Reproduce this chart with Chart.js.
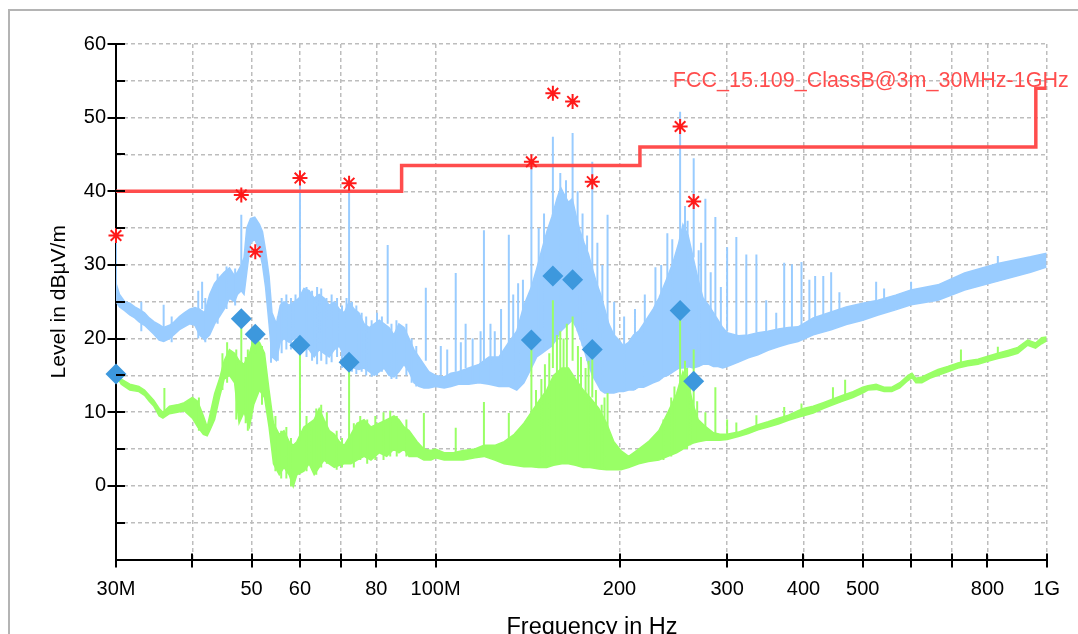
<!DOCTYPE html>
<html>
<head>
<meta charset="utf-8">
<script src="https://cdn.jsdelivr.net/npm/chart.js@4.4.1/dist/chart.umd.min.js"></script>
<style>
  html, body { margin: 0; padding: 0; background: #fff; overflow: hidden; width: 1078px; height: 634px; }
  #frame { position: absolute; left: 8px; top: 9px; width: 2000px; height: 2000px; border: 2px solid #b4b4b4; }
  #wrap { position: absolute; left: 0; top: 0; width: 1078px; height: 660px; }
</style>
</head>
<body>
<div id="frame"></div>
<div id="wrap"><canvas id="c" width="1078" height="660"></canvas></div>
<script>
// ---------- axis ticks / titles ----------
const xTickValues = [30, 40, 50, 60, 70, 80, 100, 200, 300, 400, 500, 600, 700, 800, 1000];
const xTickLabels = ['30M', '', '50', '60', '', '80', '100M', '200', '300', '400', '500', '', '', '800', '1G'];
const yTickValues = [-10, -5, 0, 5, 10, 15, 20, 25, 30, 35, 40, 45, 50, 55, 60];
const yTickLabels = ['', '', '0', '', '10', '', '20', '', '30', '', '40', '', '50', '', '60'];
const xTitle = 'Frequency in Hz';
const yTitle = 'Level in dBµV/m';

// ---------- limit line (FCC 15.109 Class B @3m) ----------
const limitName = 'FCC_15.109_ClassB@3m_30MHz-1GHz';
const limitFreq = [30, 88, 216, 960, 1000];
const limitLevel = [40, 43.5, 46, 54, 54];

// ---------- final measurement markers ----------
const markerFreq = [30.0, 48.1, 50.7, 60.0, 72.2, 143.5, 155.6, 167.6, 180.5, 251.3, 264.5];
const peakLevel  = [34.0, 39.5, 31.8, 41.8, 41.1, 44.0, 53.3, 52.2, 41.3, 48.8, 38.6];
const qpLevel    = [15.2, 22.7, 20.6, 19.1, 16.8, 19.8, 28.5, 28.0, 18.5, 23.8, 14.2];

// ---------- blue (peak) pre-scan trace: band low / high ----------
const blueFreq = [30.0,30.4,31.0,31.6,32.2,32.7,33.4,34.0,34.6,35.3,35.9,36.7,37.4,38.1,38.8,39.6,40.4,41.1,41.9,42.7,43.5,44.3,45.1,46.0,46.9,47.4,48.1,48.6,49.1,49.8,50.6,51.5,52.1,52.7,53.4,54.0,54.9,55.7,56.5,57.6,58.7,59.8,60.9,62.1,63.3,64.5,65.7,67.0,68.3,69.6,70.9,72.2,73.6,74.9,76.4,77.9,79.4,80.9,82.4,83.9,85.5,87.1,88.8,90.5,92.2,93.9,95.7,97.5,100,103.3,106,109,113.3,117.8,122.3,127,131.8,135.8,139.5,143.5,146.4,149.2,152.1,155,158,160.3,162.6,165,167.4,170,172.5,175,177.9,180.6,183.5,186.3,189.2,192.1,195.8,199.5,203,207,211,215,219,223,227,232,236,240,245,250,254,259,264,269,274,280,285,290,295,300,313,325,337,350,364,378,392,415,444,470,500,530,566,600,664,734,832,941,1000];
const blueLo = [25.0,24.3,23.8,23.2,22.8,22.3,21.8,21.2,20.6,19.8,19.6,20.0,20.6,21.2,21.6,22.0,21.8,20.5,19.8,20.5,22.0,23.0,24.0,25.5,25.0,26.0,26.5,26.0,29.0,33.0,33.5,32.0,30.0,27.0,22.0,17.5,17.0,19.5,20.0,19.5,20.0,20.5,19.0,18.5,17.5,18.5,18.0,17.5,18.5,19.0,17.5,16.5,16.0,15.8,16.0,15.5,15.0,15.5,16.0,15.0,14.8,15.5,16.5,15.5,14.0,13.5,13.3,13.3,13.5,13.3,13.5,13.8,13.8,14.0,13.8,13.5,13.5,13.0,14.0,16.0,17.5,18.0,18.5,19.0,20.0,21.0,21.5,22.0,22.5,21.5,20.0,18.5,16.5,15.0,14.0,13.0,12.6,12.6,12.6,12.8,12.8,13.0,13.0,13.4,13.4,13.7,14.0,14.3,14.8,15.0,15.5,16.0,16.0,16.2,16.0,16.2,16.5,16.5,16.2,16.2,16.0,16.2,16.8,17.4,17.8,18.4,18.9,19.3,19.6,20.5,21.2,21.9,22.5,23.2,23.9,24.6,25.2,26.6,27.8,29.0,29.7];
const blueHi = [27.5,26.0,25.0,24.8,24.3,24.0,23.5,22.8,22.3,21.9,21.5,21.8,22.3,23.0,23.5,24.0,24.2,24.0,23.5,26.0,27.5,28.3,29.0,29.6,28.5,29.0,30.0,31.0,35.0,36.3,36.5,35.5,34.5,32.0,28.5,23.5,22.0,24.5,25.0,24.5,25.0,25.5,26.8,26.5,25.5,26.0,25.5,24.5,25.0,24.0,23.5,25.0,24.0,23.5,22.0,21.5,22.0,22.5,22.0,21.5,20.5,22.0,21.5,20.0,18.5,17.5,16.5,15.5,15.0,14.8,15.3,15.5,16.0,16.5,17.5,17.5,19.5,21.0,24.5,27.0,29.5,32.0,34.5,36.5,39.0,40.5,39.5,38.5,39.0,36.5,34.5,33.0,31.5,29.5,27.5,26.0,24.0,22.0,20.5,19.8,19.0,19.5,20.5,21.0,22.0,23.0,24.0,25.5,27.0,28.5,30.5,33.0,35.5,34.0,31.0,28.0,25.5,24.5,23.5,22.5,21.5,20.8,20.4,20.5,20.8,21.0,21.3,21.5,21.6,22.8,23.6,24.3,24.8,25.2,25.9,26.6,27.3,28.9,30.2,31.1,31.6];

// ---------- blue narrow-band spikes / excursions (freq, from, to) ----------
const blueSpikeFreq = [30.0,35.9,41.5,48.1,60.0,72.2,83.5,96.4,102,107.9,112,120,125,131.8,139,143.5,155.6,167.6,180.5,191.2,229,239.5,251.3,264.5,276.4,287,300,310.6,322.5,335,347.6,361,372,383,397,409,418,431,444,458,526,542,600,832,
  33.0,37.0,40.9,42.0,44.0,45.5,47.0,53.8,55.2,56.0,57.0,58.0,59.0,61.5,62.8,64.0,65.0,66.3,67.6,69.0,70.3,71.5,73.0,74.2,75.7,77.0,78.6,80.2,81.7,84.7,86.3,89.6,91.4,93.0,
  104.5,110,115,118.5,123,128,134,136.5,147.5,150.5,160,163.5,170.8,174,177,184,187.5,196,203.5,212,220,234,244,256,258.5,269.5,272,282,293];
const blueSpikeBase = [26,21.5,24,29,25,24,22,17,15,15.5,16,16.5,17.5,19,23,26,36,38,29,22,23.5,28,32,31,25,23,21,20.5,20.5,20.8,21,21,21.2,21.4,21.8,22.3,22.6,23,23.4,23.8,24.8,25,26.3,29.5,
  21,19.5,20,19.5,22,24,24.5,16.7,17,18,18.5,18.5,19,17.5,17,16.5,17,16.5,16.8,17.5,16,16.5,15.5,15.2,15.5,15,14.8,15,15.5,14.5,14.5,15,14,13.5,
  14,14,14,14,14,14,14,14,18,18.5,21,22,21,19,17,14,13,12.6,12.8,13,13.5,14.5,15.5,16,16,16.2,16.5,16.5,16];
const blueSpikeTop  = [33.5,24.6,27.7,36.8,40.9,40.4,32.7,26.9,19,28.9,22,34.7,21,34.1,28,43.3,47.4,47.9,44.0,36.8,29.7,34.3,50.8,44.5,39.0,36.5,32.4,33.8,31.4,31.4,25.2,23.5,30.3,30.1,30.4,28.0,28.5,28.5,29.0,26.3,27.7,26.8,27.7,31.2,
  25,23,26.5,25.5,28.8,29.8,29.5,24,23,25.5,26,25.5,26,27,26.5,27,26.8,25.5,26,25.5,24.5,25.5,25,24.5,23.5,23,22.5,23.5,23,22,22.5,22,20,19,
  18.5,19.5,20,21,22,24,26,27.5,35,37,42.5,41.5,40,37,34,33,30,25,23,24,26,30,33.5,38,36,32,33,29,27];

// ---------- green (average) trace: band low / high ----------
const greenFreq = [30.0,30.6,31.6,32.7,33.4,34.0,34.6,35.3,35.8,36.7,37.8,38.8,40.0,40.8,41.7,42.3,42.7,43.5,44.3,45.1,46.0,46.9,47.7,48.6,49.6,50.4,51.5,52.5,53.4,54.3,55.5,56.5,57.6,58.5,59.3,60.9,62.1,63.3,64.5,65.7,67.0,68.3,69.6,70.9,72.7,74.4,76.4,78.4,80.9,83.2,85.5,87.1,88.8,90.5,93.3,95.7,98.3,100,103.3,107,111,116,120,125,129.5,134.5,139.5,143.5,147.5,152,156,161,165,169.5,174.5,179,185,190.5,195.8,201,207,215,223,232,240,248,254,259,264,269,277,285,292,300,313,325,337,350,364,378,392,400,415,431,447,464,482,500,510,526,542,558,575,593,602,611,625,644,664,689,716,743,772,801,832,864,897,931,959,981,1000];
const greenLo = [15.0,13.8,13.0,12.8,12.3,11.5,10.8,9.5,9.2,9.8,10.0,10.2,9.2,8.0,7.0,6.8,7.5,9.0,12.0,14.5,15.0,14.0,8.5,10.0,8.0,11.0,13.0,12.0,8.0,3.0,1.5,2.5,1.5,-0.1,1.5,2.0,3.0,1.5,2.5,3.5,3.0,2.5,2.8,3.0,3.0,3.5,4.0,3.5,4.5,4.0,5.0,4.5,5.0,4.0,4.0,3.5,3.5,3.8,3.5,3.5,3.5,3.8,4.0,3.5,3.0,2.8,2.6,2.6,2.5,2.5,2.8,3.0,3.0,2.8,2.5,2.5,2.3,2.2,2.2,2.2,2.5,3.0,3.3,3.5,4.0,4.5,5.0,5.5,5.8,6.0,6.2,6.2,6.2,6.3,6.7,7.1,7.6,8.0,8.4,8.9,9.3,9.5,9.9,10.5,11.0,11.5,12.0,12.6,13.0,13.1,12.8,12.8,13.3,14.3,14.7,14.0,14.0,14.6,15.0,15.5,16.0,16.3,16.5,16.9,17.3,17.6,18.0,19.1,18.7,19.3,19.7];
const greenHi = [15.4,14.5,13.8,13.5,13.0,12.3,11.6,10.5,10.0,10.8,11.0,11.3,12.0,11.5,9.5,8.0,9.5,12.5,14.5,17.0,18.5,18.0,17.0,16.5,18.0,20.0,19.5,18.0,13.0,8.5,7.0,7.5,6.0,5.5,6.0,8.0,8.5,9.0,10.5,9.0,7.5,7.0,6.0,5.5,7.0,8.5,9.0,8.0,8.5,9.0,9.5,9.0,8.0,7.5,6.0,5.0,4.8,5.0,4.5,4.5,4.8,5.0,5.5,5.5,6.0,7.0,8.5,10.0,11.5,13.0,15.0,16.0,16.0,14.5,13.0,12.0,10.5,8.5,6.0,4.8,4.0,5.0,6.0,7.5,10.0,12.5,15.5,14.0,11.0,9.0,8.0,7.2,7.0,7.0,7.3,7.8,8.3,8.7,9.2,9.6,10.2,10.5,10.8,11.3,11.8,12.3,12.8,13.4,13.6,13.8,13.4,13.4,14.0,15.0,15.3,14.6,14.8,15.3,15.8,16.2,16.7,17.0,17.2,17.6,18.0,18.4,18.8,19.8,19.4,20.1,20.2];

// ---------- green narrow-band spikes / excursions (freq, from, to) ----------
const greenSpikeFreq = [36.0,48.1,50.7,60.0,72.2,95.7,107.9,120,131.8,143.5,155.6,167.6,180.5,191.2,251.3,264.5,276.4,287,300,310.6,335,372,397,447,468,724,832,
  41.0,44.8,45.6,47.2,48.9,49.3,50.1,52.0,54.7,55.9,57.0,58.0,61.5,62.7,63.8,65.0,66.4,68.9,70.3,73.5,75.3,77.3,79.7,82.2,84.3,86.4,89.6,
  146,149,151,153.5,158,160,162,164,171,173,176,178,183,187,189,236,243,246,256,258,261,268];
const greenSpikeBase = [10,16,18,6,5,5,4.5,5,5.5,9,16,17,12,8,14,10,7.5,7,7,7,8.2,9,10,11.5,12,16.5,17.8,
  7.5,13,14,9,8.5,7.5,10,11,2,1,1,-0.1,2,2.5,1.5,2.5,3,2.2,2.5,2.5,3.5,3,3.5,3.5,4,4,4,
  3,3,3,3,3,3,3,3,3,3,2.5,2.5,2.5,2.3,2.3,3.5,4,4.5,5,5,5.5,6];
const greenSpikeTop  = [13.3,22.7,20.6,19.1,16.8,9.9,7.9,11.4,9.9,19.8,25.2,23.0,18.5,12.6,23.8,18.5,10.0,13.4,9.0,8.6,9.6,10.7,11.2,13.4,14.4,18.5,18.9,
  12,18,19.5,18.5,17.5,18.5,20,19,9.5,7.5,8,6.5,9.5,8,10.5,11,10,7.5,6.5,8.5,9.5,9,9.5,10,10.2,9.5,9,
  13,14.5,16.5,18,20.5,21,20,22,19,17.5,16,17,13,11,12,9,12,13.5,17,16,15,11.5];

// ---------- colours / fonts ----------
const BLUE = '#99ccff';
const GREEN = '#99ff66';
const LIMIT = '#ff4d4d';
const STAR = '#ff1a1a';
const DIAMOND = '#3d98dd';
const FONT = "'Liberation Sans', Arial, Helvetica, sans-serif";

function pts(f, v) { return f.map((x, i) => ({ x: x, y: v[i] })); }
function spikes(f, b, t) {
  const out = [];
  f.forEach((x, i) => { out.push({ x: x, y: b[i] }, { x: x, y: t[i] }, { x: x, y: null }); });
  return out;
}

const decorPlugin = {
  id: 'emcDecor',
  afterDraw(chart) {
    const c = chart.ctx;
    const xs = chart.scales.x, ys = chart.scales.y;
    const left = chart.chartArea.left, bottom = chart.chartArea.bottom;
    c.save();
    c.strokeStyle = '#000';
    c.lineWidth = 2;
    c.beginPath();
    yTickValues.forEach((v, i) => {
      const y = Math.round(ys.getPixelForValue(v));
      const x0 = yTickLabels[i] !== '' ? left - 8.5 : left;
      c.moveTo(x0, y); c.lineTo(left + 9, y);
    });
    xTickValues.forEach(v => {
      const x = Math.round(xs.getPixelForValue(v));
      c.moveTo(x, bottom - 6); c.lineTo(x, bottom + 8);
    });
    c.stroke();
    // x axis title (centred on the whole figure, as in the original)
    c.fillStyle = '#000';
    c.font = '23.5px ' + FONT;
    c.textAlign = 'center';
    c.textBaseline = 'alphabetic';
    c.fillText(xTitle, 592, bottom + 74);
    // limit name
    c.fillStyle = LIMIT;
    c.font = '21.5px ' + FONT;
    c.textAlign = 'right';
    c.fillText(limitName, xs.getPixelForValue(1000) + 22, ys.getPixelForValue(54) - 1.5);
    c.restore();
  }
};

new Chart(document.getElementById('c'), {
  type: 'line',
  data: {
    datasets: [
      { label: 'peak', data: pts(markerFreq, peakLevel), showLine: false, pointStyle: 'star', pointRadius: 7.5, pointBorderColor: STAR, pointBorderWidth: 2, pointBackgroundColor: STAR, order: 0, clip: false },
      { label: 'qp', data: pts(markerFreq, qpLevel), showLine: false, pointStyle: 'rectRot', pointRadius: 10.5, pointBorderWidth: 0, pointBorderColor: DIAMOND, pointBackgroundColor: DIAMOND, order: 1, clip: false },
      { label: limitName, data: pts(limitFreq, limitLevel), stepped: 'before', borderColor: LIMIT, borderWidth: 3.5, pointRadius: 0, fill: false, order: 2 },
      { label: 'greenSpikes', data: spikes(greenSpikeFreq, greenSpikeBase, greenSpikeTop), borderColor: GREEN, borderWidth: 2, pointRadius: 0, spanGaps: false, fill: false, order: 3 },
      { label: 'greenLo', data: pts(greenFreq, greenLo), borderColor: GREEN, borderWidth: 1.5, pointRadius: 0, fill: false, order: 5 },
      { label: 'greenHi', data: pts(greenFreq, greenHi), borderColor: GREEN, backgroundColor: GREEN, borderWidth: 1.5, pointRadius: 0, fill: '-1', order: 4 },
      { label: 'blueSpikes', data: spikes(blueSpikeFreq, blueSpikeBase, blueSpikeTop), borderColor: BLUE, borderWidth: 2, pointRadius: 0, spanGaps: false, fill: false, order: 6 },
      { label: 'blueLo', data: pts(blueFreq, blueLo), borderColor: BLUE, borderWidth: 1.5, pointRadius: 0, fill: false, order: 8 },
      { label: 'blueHi', data: pts(blueFreq, blueHi), borderColor: BLUE, backgroundColor: BLUE, borderWidth: 1.5, pointRadius: 0, fill: '-1', order: 7 }
    ]
  },
  options: {
    responsive: false,
    animation: false,
    devicePixelRatio: 1,
    layout: { padding: { left: 0, top: 44, right: 29, bottom: 0 } },
    plugins: { legend: { display: false }, tooltip: { enabled: false } },
    elements: { line: { tension: 0 } },
    scales: {
      x: {
        type: 'logarithmic', min: 30, max: 1000,
        afterBuildTicks: s => { s.ticks = xTickValues.map(v => ({ value: v })); },
        afterFit: s => { s.height = 100.5; },
        ticks: { autoSkip: false, maxRotation: 0, minRotation: 0, padding: 18, color: '#000', font: { family: FONT, size: 20 },
                 callback: (v, i) => xTickLabels[i] },
        grid: { color: '#bdbdbd', lineWidth: 1.5, drawTicks: false },
        border: { display: true, color: '#000', width: 2, dash: [4, 3] },
        title: { display: false }
      },
      y: {
        type: 'linear', min: -10, max: 60,
        afterBuildTicks: s => { s.ticks = yTickValues.map(v => ({ value: v })); },
        afterFit: s => { s.width = 116; },
        ticks: { autoSkip: false, padding: 10, color: '#000', font: { family: FONT, size: 20 },
                 callback: (v, i) => yTickLabels[i] },
        grid: { color: '#bdbdbd', lineWidth: 1.5, drawTicks: false },
        border: { display: true, color: '#000', width: 2, dash: [4, 3] },
        title: { display: true, text: yTitle, color: '#000', font: { family: FONT, size: 21 }, padding: { top: 47, bottom: 0 } }
      }
    }
  },
  plugins: [decorPlugin]
});
</script>
</body>
</html>
